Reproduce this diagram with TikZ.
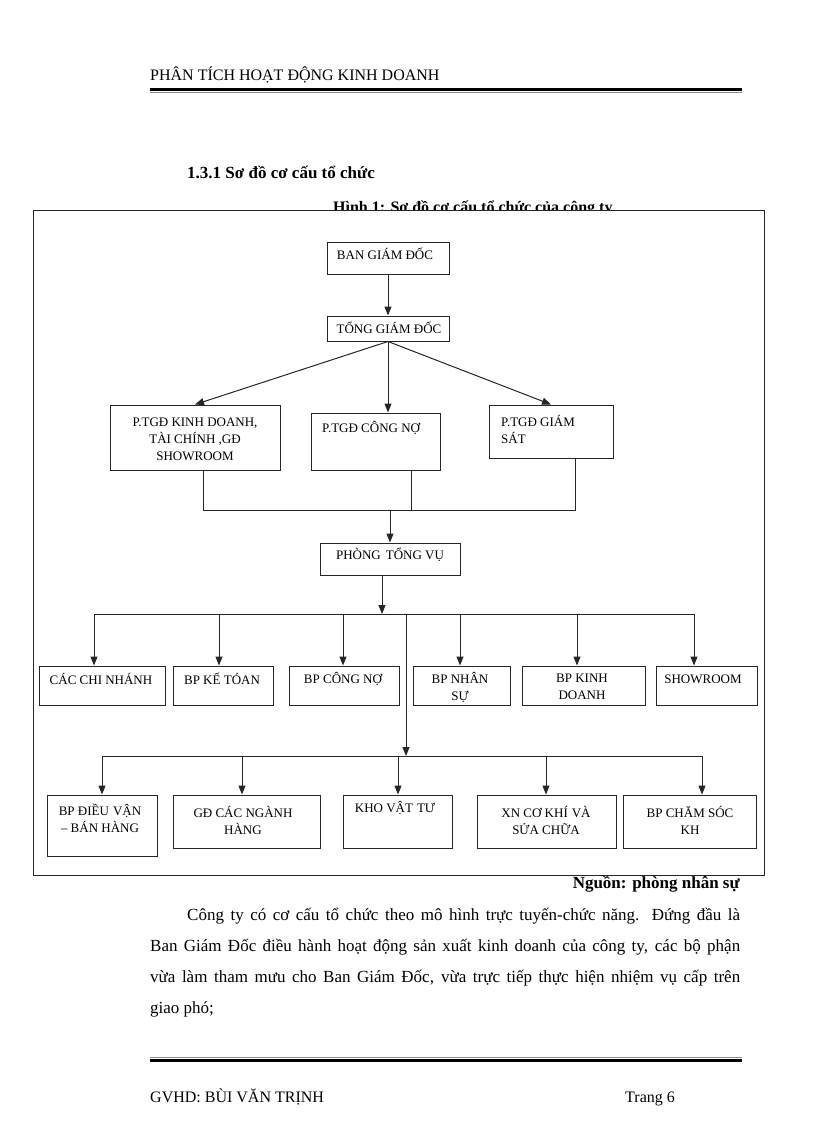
\documentclass[tikz,border=0pt]{standalone}
\usepackage{fontspec}
\setmainfont{Liberation Serif}
\usetikzlibrary{arrows.meta}
\begin{document}
\begin{tikzpicture}[x=1pt,y=-1pt,
  ln/.style={draw=black!85, line width=1pt},
  arr/.style={ln, -{Triangle[length=9pt,width=7pt]}},
  box/.style={ln, inner sep=0pt},
  lbl/.style={font=\fontsize{13}{17}\selectfont, align=center, inner sep=0pt},
  lbll/.style={font=\fontsize{13}{17}\selectfont, align=left, inner sep=0pt},
  body/.style={font=\fontsize{17}{20}\selectfont, inner sep=0pt, anchor=base west},
  bodyb/.style={font=\fontsize{17}{20}\selectfont\bfseries, inner sep=0pt},
  hdr/.style={font=\fontsize{16}{19}\selectfont, inner sep=0pt}]
\useasboundingbox[fill=white] (0,0) rectangle (816,1123);

% header and footer
\node[hdr, anchor=base west] (htext) at (150,81) {PHÂN TÍCH HOẠT ĐỘNG KINH DOANH};
\draw[line width=3pt] (150,89.5) -- (742,89.5);
\draw[black!45, line width=1pt] (150,93) -- (742,93);
\draw[black!45, line width=1pt] (150,1057) -- (742,1057);
\draw[line width=3pt] (150,1060.5) -- (742,1060.5);
\node[hdr, anchor=base west] (ftext) at (150,1102) {GVHD: BÙI VĂN TRỊNH};
\node[hdr, anchor=base west] (page) at (625,1102) {Trang 6};

% titles
\node[bodyb, anchor=base west] (sect) at (187,179) {1.3.1 Sơ đồ cơ cấu tổ chức};
\node[font=\fontsize{16}{19}\selectfont\bfseries, inner sep=0pt, anchor=base west] (fig) at (333,212.5) {Hình 1: Sơ đồ cơ cấu tổ chức của công ty};

% frame
\draw[ln, fill=white] (33,211) rectangle (764,875);

% boxes
\node[box, minimum width=122pt, minimum height=32pt] (ban) at (388,258) {};
\node[box, minimum width=122pt, minimum height=25pt] (tong) at (388,328.5) {};
\node[box, minimum width=170pt, minimum height=65pt] (kd) at (195,437.5) {};
\node[box, minimum width=129pt, minimum height=57pt] (cn) at (375.5,441.5) {};
\node[box, minimum width=124pt, minimum height=53pt] (gs) at (551,431.5) {};
\node[box, minimum width=140pt, minimum height=32pt] (ptv) at (390,559) {};

\node[box, minimum width=126pt, minimum height=39pt] (r1a) at (102,685.5) {};
\node[box, minimum width=100pt, minimum height=39pt] (r1b) at (223,685.5) {};
\node[box, minimum width=110pt, minimum height=39pt] (r1c) at (344,685.5) {};
\node[box, minimum width=97pt, minimum height=39pt] (r1d) at (461.5,685.5) {};
\node[box, minimum width=123pt, minimum height=39pt] (r1e) at (583.5,685.5) {};
\node[box, minimum width=101pt, minimum height=39pt] (r1f) at (706.5,685.5) {};

\node[box, minimum width=110pt, minimum height=61pt] (r2a) at (102,825.5) {};
\node[box, minimum width=147pt, minimum height=53pt] (r2b) at (246.5,821.5) {};
\node[box, minimum width=109pt, minimum height=53pt] (r2c) at (397.5,821.5) {};
\node[box, minimum width=139pt, minimum height=53pt] (r2d) at (546.5,821.5) {};
\node[box, minimum width=133pt, minimum height=53pt] (r2e) at (689.5,821.5) {};

% box texts
\node[lbl] (tban) at (385,254) {BAN GIÁM ĐỐC};
\node[lbl] (ttong) at (389,328) {TỔNG GIÁM ĐỐC};
\node[lbl] (tkd) at (195,439) {P.TGĐ KINH DOANH,\\TÀI CHÍNH ,GĐ\\SHOWROOM};
\node[lbll, anchor=west] (tcn) at (322,428) {P.TGĐ CÔNG NỢ};
\node[lbll, anchor=west] (tgs) at (501,429) {P.TGĐ GIÁM\\SÁT};
\node[lbl] (tptv) at (390,555) {PHÒNG\hspace{5pt}TỔNG VỤ};
\node[lbl] (t1a) at (101,679) {CÁC CHI NHÁNH};
\node[lbl] (t1b) at (222,679) {BP KẾ TÓAN};
\node[lbl] (t1c) at (343,679) {BP CÔNG NỢ};
\node[lbl] (t1d) at (460,687) {BP NHÂN\\SỰ};
\node[lbl] (t1e) at (582,687) {BP KINH\\DOANH};
\node[lbl] (t1f) at (703,679) {SHOWROOM};
\node[lbl] (t2a) at (100,818) {BP ĐIỀU\hspace{4pt}VẬN\\– BÁN HÀNG};
\node[lbl] (t2b) at (243,820) {GĐ CÁC NGÀNH\\HÀNG};
\node[lbl] (t2c) at (395,808) {KHO VẬT\hspace{4pt}TƯ};
\node[lbl] (t2d) at (546,820) {XN CƠ KHÍ\hspace{4pt}VÀ\\SỬA CHỮA};
\node[lbl] (t2e) at (690,820) {BP CHĂM SÓC\\KH};

% connectors
\draw[arr] (ban.south) -- (tong.north);
\draw[arr] (tong.south) -- (kd.north);
\draw[arr] (tong.south) -- (tong.south |- cn.north);
\draw[arr] (tong.south) -- (gs.north);

\coordinate (jk) at (203,510);
\coordinate (jc) at (411,510);
\coordinate (jg) at (575,510);
\coordinate (jm) at (390,510);
\draw[ln] (jk |- kd.south) -- (jk) -- (jg) -- (jg |- gs.south);
\draw[ln] (jc |- cn.south) -- (jc);
\draw[arr] (jm) -- (jm |- ptv.north);

\coordinate (p1) at (382,614);
\coordinate (b1a) at (94,614);
\coordinate (b1b) at (219,614);
\coordinate (b1c) at (343,614);
\coordinate (b1d) at (460,614);
\coordinate (b1e) at (577,614);
\coordinate (b1f) at (694,614);
\draw[arr] (p1 |- ptv.south) -- (p1);
\draw[ln] (b1a) -- (b1f);
\draw[arr] (b1a) -- (b1a |- r1a.north);
\draw[arr] (b1b) -- (b1b |- r1b.north);
\draw[arr] (b1c) -- (b1c |- r1c.north);
\draw[arr] (b1d) -- (b1d |- r1d.north);
\draw[arr] (b1e) -- (b1e |- r1e.north);
\draw[arr] (b1f) -- (b1f |- r1f.north);

\coordinate (v1) at (406,614);
\coordinate (v2) at (406,756);
\draw[arr] (v1) -- (v2);
\coordinate (b2a) at (102,756);
\coordinate (b2b) at (242,756);
\coordinate (b2c) at (398,756);
\coordinate (b2d) at (546,756);
\coordinate (b2e) at (702,756);
\draw[ln] (b2a) -- (b2e);
\draw[arr] (b2a) -- (b2a |- r2a.north);
\draw[arr] (b2b) -- (b2b |- r2b.north);
\draw[arr] (b2c) -- (b2c |- r2c.north);
\draw[arr] (b2d) -- (b2d |- r2d.north);
\draw[arr] (b2e) -- (b2e |- r2e.north);

% source and paragraph
\node[bodyb, anchor=base east] (src) at (740,888) {Nguồn: phòng nhân sự};
\node[body] (l1) at (187,920) {\makebox[553pt][s]{Công ty có cơ cấu tổ chức theo mô hình trực tuyến-chức năng. Đứng đầu là}};
\node[body] (l2) at (150,951) {\makebox[590pt][s]{Ban Giám Đốc điều hành hoạt động sản xuất kinh doanh của công ty, các bộ phận}};
\node[body] (l3) at (150,982) {\makebox[590pt][s]{vừa làm tham mưu cho Ban Giám Đốc, vừa trực tiếp thực hiện nhiệm vụ cấp trên}};
\node[body] (l4) at (150,1013) {giao phó;};
\end{tikzpicture}
\end{document}
